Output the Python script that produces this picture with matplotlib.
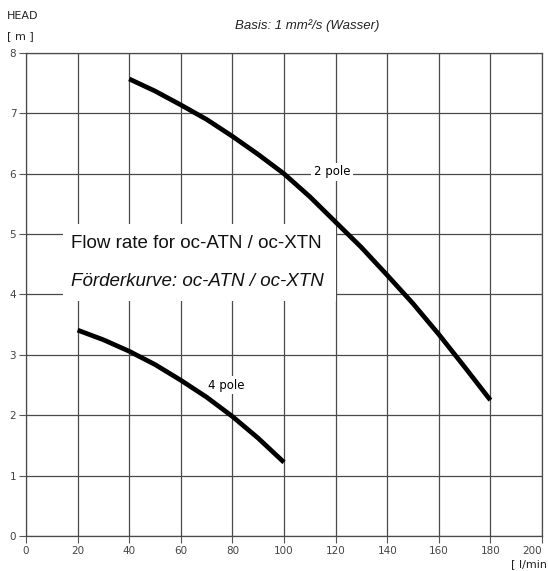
import numpy as np
import matplotlib
matplotlib.use("Agg")
from matplotlib import pyplot as plt
from matplotlib.patches import Rectangle

# Pump curves (flow in l/min, head in m)
flow2 = [40, 50, 60, 70, 80, 90, 100, 110, 120, 130, 140, 150, 160, 170, 180]
head2 = [7.57, 7.37, 7.14, 6.9, 6.62, 6.32, 6.0, 5.62, 5.2, 4.78, 4.32, 3.85, 3.34, 2.8, 2.25]
flow4 = [20, 30, 40, 50, 60, 70, 80, 90, 100]
head4 = [3.41, 3.25, 3.06, 2.84, 2.58, 2.3, 1.98, 1.62, 1.22]

xTicks = [0, 20, 40, 60, 80, 100, 120, 140, 160, 180, 200]
yTicks = [0, 1, 2, 3, 4, 5, 6, 7, 8]

W, H = 548, 571
fig = plt.figure(figsize=(W / 100, H / 100), dpi=100)
ax = fig.add_axes([26 / W, 1 - 536 / H, 516 / W, 483 / H])
ax.set_xlim(0, 200)
ax.set_ylim(0, 8)
ax.set_xticks(xTicks)
ax.set_yticks(yTicks)
ax.tick_params(labelsize=7.5, labelcolor="#444444", color="#555555", length=5, width=0.8, pad=2)

# last x label is pulled in so it stays inside the picture
ax.get_xticklabels()[-1].set_ha("right")

# grid and frame
ax.grid(True, color="#4a4a4a", linewidth=0.9, zorder=0.5)
ax.set_axisbelow(True)
for s in ax.spines.values():
    s.set_color("#4a4a4a")
    s.set_linewidth(0.9)

# white box with the title text
ax.add_patch(Rectangle((14.3, 3.9), 106.0, 1.27, facecolor="white", edgecolor="none", zorder=2))
ax.text(17.4, 4.85, "Flow rate for oc-ATN / oc-XTN", fontsize=13.5, family="Liberation Sans",
        va="center", ha="left", color="#111111", zorder=3)
ax.text(17.4, 4.22, "Förderkurve: oc-ATN / oc-XTN", fontsize=13.5, family="Liberation Sans",
        style="italic", va="center", ha="left", color="#111111", zorder=3)

# the curves
ax.plot(flow2, head2, color="black", linewidth=3.4, solid_capstyle="butt", zorder=4)
ax.plot(flow4, head4, color="black", linewidth=3.4, solid_capstyle="butt", zorder=4)

ax.text(118.6, 6.03, "2 pole", fontsize=8.5, ha="center", va="center", zorder=3,
        bbox=dict(facecolor="white", edgecolor="none", pad=2))
ax.text(77.8, 2.5, "4 pole", fontsize=8.5, ha="center", va="center", zorder=3,
        bbox=dict(facecolor="white", edgecolor="none", pad=2))

# labels outside the axes
fig.text(7 / W, 1 - 16 / H, "HEAD", fontsize=8, ha="left", va="center", color="#222222")
fig.text(7 / W, 1 - 36 / H, "[ m ]", fontsize=8, ha="left", va="center", color="#222222")
fig.text(307 / W, 1 - 26 / H, "Basis: 1 mm²/s (Wasser)", fontsize=9.5, family="Liberation Sans",
         style="italic", ha="center", va="center", color="#222222")
fig.text(547 / W, 1 - 564 / H, "[ l/min", fontsize=8, ha="right", va="center", color="#222222")

fig.savefig("out.png", dpi=100)
